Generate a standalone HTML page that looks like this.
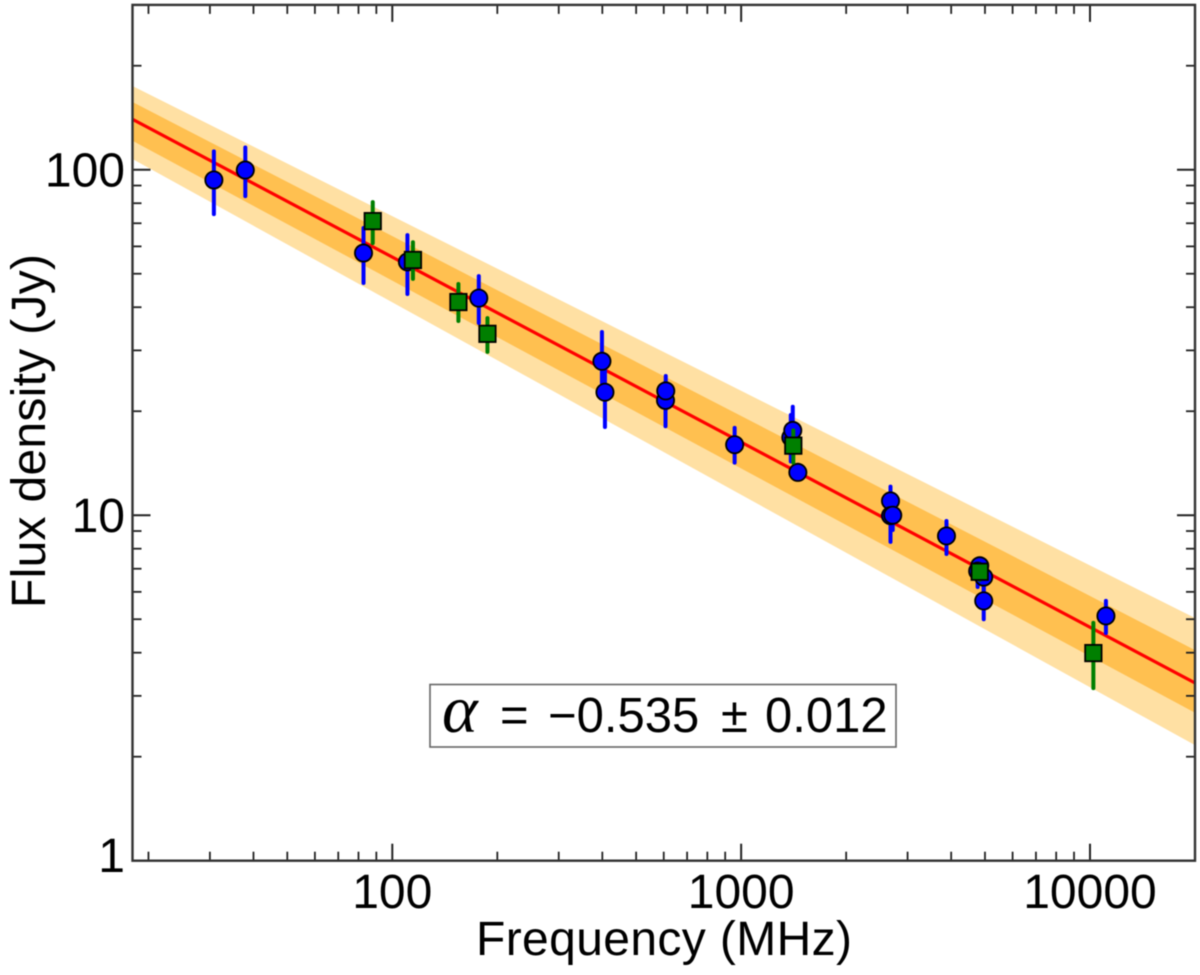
<!DOCTYPE html>
<html lang="en">
<head>
<meta charset="utf-8">
<title>Flux density vs frequency</title>
<style>
html,body{margin:0;padding:0;background:#fff;}
svg{display:block;filter:blur(0.5px);}
text{font-family:"Liberation Sans",sans-serif;fill:#000;}
</style>
</head>
<body>
<svg id="chart" xmlns="http://www.w3.org/2000/svg" width="1200" height="975" viewBox="0 0 1200 975">
<defs><clipPath id="plot-clip"><rect x="132.5" y="4.9" width="1062.5" height="855.8"/></clipPath></defs>
<rect width="1200" height="975" fill="#fff"/>
<g id="bands" clip-path="url(#plot-clip)"></g>
<g id="fit" clip-path="url(#plot-clip)"></g>
<g id="blue"></g>
<g id="green"></g>
<g id="axes"></g>
<g>
<rect x="430" y="684.5" width="466" height="62.5" fill="#fff" stroke="#666" stroke-width="1.6"/>
<text y="732" font-size="49"><tspan x="442" font-family="Liberation Serif,serif" font-style="italic" font-size="68">α</tspan> <tspan x="500">=</tspan> <tspan x="548">−0.535</tspan> <tspan x="721">±</tspan> <tspan x="765">0.012</tspan></text>
</g>
<text x="664" y="955" font-size="48" text-anchor="middle" textLength="376" lengthAdjust="spacing">Frequency (MHz)</text>
<text transform="translate(45,431) rotate(-90)" font-size="48" text-anchor="middle" textLength="354" lengthAdjust="spacing">Flux density (Jy)</text>
</svg>
<script>
// Axis ranges
const xRange = [18, 20000];
const yRange = [1, 300];

// Tick values
const xMajorTicks = [100, 1000, 10000];
const xMinorTicks = [20, 30, 40, 50, 60, 70, 80, 90, 200, 300, 400, 500, 600, 700, 800, 900, 2000, 3000, 4000, 5000, 6000, 7000, 8000, 9000, 20000];
const xTickLabels = ["100", "1000", "10000"];
const yMajorTicks = [1, 10, 100];
const yMinorTicks = [2, 3, 4, 5, 6, 7, 8, 9, 20, 30, 40, 50, 60, 70, 80, 90, 200, 300];
const yTickLabels = ["1", "10", "100"];

// Fit line and uncertainty bands, sampled at the axis ends
const fitFreq = [18, 20000];
const fitFlux = [140, 3.27];
const innerUpper = [157, 4.07];
const innerLower = [121.3, 2.68];
const outerUpper = [174.7, 5.04];
const outerLower = [107.4, 2.16];

// Blue series
const blueFreq = [30.8, 37.9, 82.7, 110.5, 177, 399, 407, 607, 608, 958, 1388, 1406, 1454, 2680, 2680, 2720, 3878, 4830, 4764, 4959, 4959, 11110];
const blueFlux = [93.4, 99.8, 57.4, 54.1, 42.5, 27.9, 22.7, 21.5, 22.9, 16.0, 16.8, 17.6, 13.3, 11.0, 9.97, 10.0, 8.71, 7.14, 6.89, 6.62, 5.65, 5.11];
const blueHigh = [113, 116, 67.8, 64.7, 49.2, 33.9, 26.3, 24.3, 25.3, 17.9, 19.5, 20.6, 14.0, 12.1, 11.4, 11.1, 9.62, 7.5, 7.2, 7.32, 6.2, 5.65];
const blueLow = [74.4, 83.9, 47.0, 43.7, 36.0, 23.8, 18.0, 18.1, 20.2, 14.2, 14.3, 14.9, 12.7, 9.7, 8.37, 9.06, 7.72, 6.41, 6.2, 6.0, 5.0, 4.56];

// Green series
const greenFreq = [87.9, 114.6, 154.7, 187.4, 1411, 4830, 10225];
const greenFlux = [71.0, 54.8, 41.4, 33.5, 15.9, 6.86, 3.99];
const greenHigh = [80.6, 61.7, 46.7, 37.2, 17.6, 7.2, 4.88];
const greenLow = [61.3, 48.3, 36.5, 29.7, 14.2, 6.5, 3.16];

const plotLeft = 132.5, plotRight = 1195, plotTop = 4.9, plotBottom = 860.7;
const NS = 'http://www.w3.org/2000/svg';

function sx(v) {
  return plotLeft + (Math.log10(v) - Math.log10(xRange[0])) / (Math.log10(xRange[1]) - Math.log10(xRange[0])) * (plotRight - plotLeft);
}
function sy(v) {
  return plotBottom - (Math.log10(v) - Math.log10(yRange[0])) / (Math.log10(yRange[1]) - Math.log10(yRange[0])) * (plotBottom - plotTop);
}
function make(tag, parent, attrs) {
  const el = document.createElementNS(NS, tag);
  for (const k in attrs) el.setAttribute(k, attrs[k]);
  parent.appendChild(el);
  return el;
}
function bandPoints(upper, lower) {
  const top = fitFreq.map((f, i) => sx(f) + ',' + sy(upper[i]));
  const bottom = fitFreq.map((f, i) => sx(f) + ',' + sy(lower[i])).reverse();
  return top.concat(bottom).join(' ');
}

const bands = document.getElementById('bands');
const outerBand = make('polygon', bands, { points: bandPoints(outerUpper, outerLower), fill: '#FFE0A3' });


const innerBand = make('polygon', bands, { points: bandPoints(innerUpper, innerLower), fill: '#FFC050' });



const fit = document.getElementById('fit');
const fitLine = make('line', fit, { x1: sx(fitFreq[0]), y1: sy(fitFlux[0]), x2: sx(fitFreq[1]), y2: sy(fitFlux[1]), stroke: '#ff0000', 'stroke-width': 3.2 });



// Blue points
const blue = document.getElementById('blue');
blueFreq.forEach((f, i) => {
  const bar = make('line', blue, { x1: sx(f), x2: sx(f), y1: sy(blueHigh[i]), y2: sy(blueLow[i]), stroke: '#0000ff', 'stroke-width': 4, 'stroke-linecap': 'round' });
  
  
});
blueFreq.forEach((f, i) => {
  const dot = make('circle', blue, { cx: sx(f), cy: sy(blueFlux[i]), r: 8.6, fill: '#0000ff', stroke: '#000', 'stroke-width': 1.8 });
  
  
});

// Green points
const green = document.getElementById('green');
greenFreq.forEach((f, i) => {
  const bar = make('line', green, { x1: sx(f), x2: sx(f), y1: sy(greenHigh[i]), y2: sy(greenLow[i]), stroke: '#007f00', 'stroke-width': 4, 'stroke-linecap': 'round' });
  
  
});
greenFreq.forEach((f, i) => {
  const sq = make('rect', green, { x: sx(f) - 8.2, y: sy(greenFlux[i]) - 8.2, width: 16.4, height: 16.4, fill: '#007f00', stroke: '#000', 'stroke-width': 1.8 });
  
  
});

// Axes
const axes = document.getElementById('axes');
const tickColor = '#222';
function tickX(v, len, w) {
  const a = make('line', axes, { x1: sx(v), x2: sx(v), y1: plotBottom, y2: plotBottom - len, stroke: tickColor, 'stroke-width': w });
  
  
  const b = make('line', axes, { x1: sx(v), x2: sx(v), y1: plotTop, y2: plotTop + len, stroke: tickColor, 'stroke-width': w });
  
  
}
function tickY(v, len, w) {
  const a = make('line', axes, { x1: plotLeft, x2: plotLeft + len, y1: sy(v), y2: sy(v), stroke: tickColor, 'stroke-width': w });
  
  
  const b = make('line', axes, { x1: plotRight, x2: plotRight - len, y1: sy(v), y2: sy(v), stroke: tickColor, 'stroke-width': w });
  
  
}
xMinorTicks.forEach(v => tickX(v, 9, 1.8));
xMajorTicks.forEach(v => tickX(v, 17, 2));
yMinorTicks.forEach(v => { if (v < yRange[1]) tickY(v, 9, 1.8); });
yMajorTicks.forEach(v => { if (v > yRange[0]) tickY(v, 18, 2); });

const frame = make('rect', axes, { x: plotLeft, y: plotTop, width: plotRight - plotLeft, height: plotBottom - plotTop, fill: 'none', stroke: '#333', 'stroke-width': 2.4 });



xMajorTicks.forEach((v, i) => {
  const t = make('text', axes, { x: sx(v), y: 908, 'font-size': 48, 'text-anchor': 'middle' });
  t.textContent = xTickLabels[i];
  
  
});
yMajorTicks.forEach((v, i) => {
  const t = make('text', axes, { x: 125, y: Math.min(sy(v) + 17, 872), 'font-size': 48, 'text-anchor': 'end' });
  t.textContent = yTickLabels[i];
  
  
});
</script>
</body>
</html>
